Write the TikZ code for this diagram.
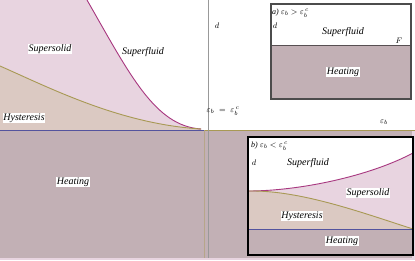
\documentclass[tikz,border=0pt]{standalone}
\usepackage{fontspec}
\setmainfont{Liberation Serif}
\usetikzlibrary{positioning}
\definecolor{pastelpink}{rgb}{0.91, 0.83, 0.88}
\definecolor{pastelbeige}{rgb}{0.86, 0.79, 0.76}
\definecolor{heatmauve}{rgb}{0.76, 0.69, 0.71}
\definecolor{curvemagenta}{rgb}{0.66, 0.22, 0.50}
\definecolor{curveolive}{rgb}{0.66, 0.60, 0.33}
\definecolor{lineblue}{rgb}{0.33, 0.33, 0.62}
\definecolor{framegray}{rgb}{0.30, 0.30, 0.30}
\tikzset{
  fase/.style={
    fill=white,
    inner sep=.6pt,
    font=\fontsize{10}{11}\selectfont\itshape
  },
  eje/.style={
    inner sep=1pt,
    font=\fontsize{8}{9}\selectfont\itshape
  },
  frontera/.style={
    line width=.9pt
  },
  recuadro/.style={
    line width=1.6pt
  }
}
\begin{document}
\begin{tikzpicture}[x=1pt, y=-1pt]
\useasboundingbox (0,0) rectangle (415,260);
\fill[white] (0,0) rectangle (415,260);
% main diagram
\fill[pastelpink] (0,0) -- (87,0) .. controls (130,75) and (155,126) .. (201,129) -- (201,130) -- (0,130) -- cycle;
\fill[pastelbeige] (0,66) .. controls (50,88) and (120,124) .. (201,129) -- (201,130) -- (0,130) -- cycle;
\fill[pastelpink] (0,130) rectangle (415,260);
\fill[heatmauve] (0,130) rectangle (412,258);
\draw[frontera, curvemagenta] (87,0) .. controls (130,75) and (155,126) .. (201,129);
\draw[frontera, curveolive] (0,66) .. controls (50,88) and (120,124) .. (201,129);
\draw[frontera, lineblue] (0,130) -- (205,130);
\draw[frontera, curveolive] (205,130) -- (415,130);
\draw[curveolive!45!heatmauve] (204,130) -- (204,258);
\draw[black!40] (208,0) -- (208,258);
\node[fase] (ss) at (50,49) {Supersolid};
\node[fase] (sf) at (143,52) {Superfluid};
\node[fase] (hy) at (24,118) {Hysteresis};
\node[fase] (he) at (73,182) {Heating};
\node[eje] (d) at (217,26) {$d$};
\node[eje] (ec) at (223,111) {$\varepsilon_b\;=\;\varepsilon_b^{\,c}$};
\node[eje] (eb) at (384,122) {$\varepsilon_b$};
% inset a
\fill[white] (271,4) rectangle (411,45);
\fill[heatmauve] (271,45) rectangle (411,99);
\draw[frontera, black!55!heatmauve] (271,45) -- (411,45);
\draw[recuadro, framegray] (271,4) rectangle (411,99);
\node[eje, anchor=west] (atit) at (271,13) {a) $\varepsilon_b > \varepsilon_b^{\,c}$};
\node[eje] (ad) at (275,26) {$d$};
\node[fase] (asf) at (343,32) {Superfluid};
\node[eje] (af) at (399,41) {$F$};
\node[fase] (ahe) at (343,72) {Heating};
% inset b
\fill[white] (248,137) rectangle (413,255);
\fill[pastelpink] (248,191) .. controls (300,191) and (370,176) .. (413,153) -- (413,229) -- (248,229) -- cycle;
\fill[pastelbeige] (248,191) .. controls (300,190) and (360,212) .. (413,229) -- (248,229) -- cycle;
\fill[heatmauve] (248,229) rectangle (413,255);
\draw[frontera, curvemagenta] (248,191) .. controls (300,191) and (370,176) .. (413,153);
\draw[frontera, curveolive] (248,191) .. controls (300,190) and (360,212) .. (413,229);
\draw[frontera, lineblue] (248,229) -- (413,229);
\draw[recuadro, black] (248,137) rectangle (413,255);
\node[eje, anchor=west] (btit) at (250,146) {b) $\varepsilon_b < \varepsilon_b^{\,c}$};
\node[eje] (bd) at (254,163) {$d$};
\node[fase] (bsf) at (308,163) {Superfluid};
\node[fase] (bss) at (368,193) {Supersolid};
\node[fase] (bhy) at (302,216) {Hysteresis};
\node[fase] (bhe) at (342,241) {Heating};
\end{tikzpicture}
\end{document}
